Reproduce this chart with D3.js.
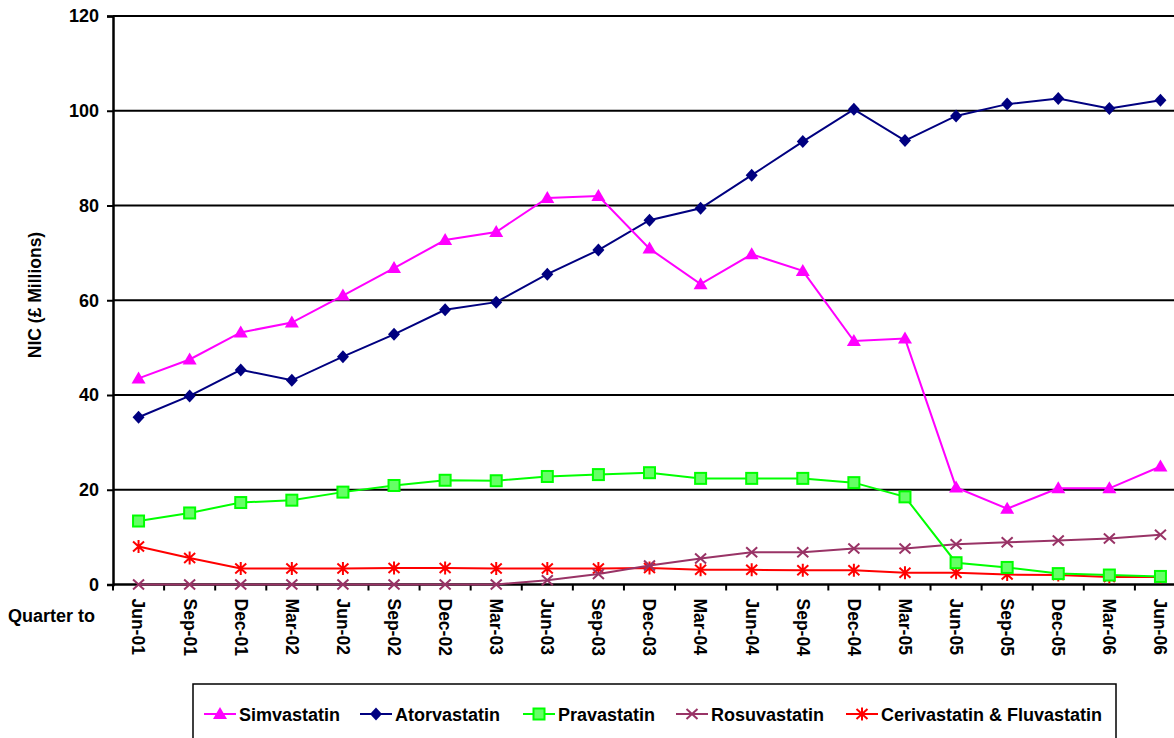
<!DOCTYPE html>
<html>
<head>
<meta charset="utf-8">
<script src="https://cdn.jsdelivr.net/npm/d3@7"></script>
<style>
  body { margin: 0; background: #fff; }
  svg { display: block; font-family: "Liberation Sans", Arial, sans-serif; font-weight: bold; }
</style>
</head>
<body>
<svg id="chart" width="1174" height="738"></svg>
<script>
// quarters
var quarters = ["Jun-01","Sep-01","Dec-01","Mar-02","Jun-02","Sep-02","Dec-02","Mar-03","Jun-03","Sep-03",
  "Dec-03","Mar-04","Jun-04","Sep-04","Dec-04","Mar-05","Jun-05","Sep-05","Dec-05","Mar-06","Jun-06"];

var simvastatin = [43.5,47.5,53.2,55.3,61.0,66.8,72.7,74.4,81.6,82.0,70.9,63.4,69.7,66.2,51.4,51.9,20.5,16.0,20.3,20.3,24.9];
var atorvastatin = [35.3,39.8,45.3,43.1,48.1,52.8,58.0,59.6,65.5,70.6,76.9,79.4,86.4,93.5,100.3,93.7,98.9,101.4,102.6,100.5,102.2];
var pravastatin = [13.4,15.1,17.3,17.8,19.5,20.9,22.0,21.9,22.8,23.2,23.6,22.4,22.4,22.4,21.5,18.5,4.6,3.6,2.3,2.0,1.7];
var rosuvastatin = [0,0,0,0,0,0,0,0,0.9,2.2,4.0,5.5,6.8,6.8,7.6,7.6,8.5,8.9,9.3,9.7,10.5];
var cerivFluv = [8.0,5.6,3.4,3.4,3.4,3.5,3.5,3.4,3.4,3.4,3.5,3.1,3.1,3.0,3.0,2.5,2.5,2.1,2.0,1.6,1.6];

var yTicks = [0,20,40,60,80,100,120];

var series = [
  {name: "Simvastatin", values: simvastatin, color: "#ff00ff", marker: "triangle"},
  {name: "Atorvastatin", values: atorvastatin, color: "#000080", marker: "diamond"},
  {name: "Pravastatin", values: pravastatin, color: "#00ff00", marker: "square"},
  {name: "Rosuvastatin", values: rosuvastatin, color: "#993366", marker: "cross"},
  {name: "Cerivastatin & Fluvastatin", values: cerivFluv, color: "#ff0000", marker: "star"}
];

var svg = d3.select("#chart");
// plot area runs past the right edge of the picture, as in the original
var plotLeft = 113, plotRight = 1186, plotTop = 16, plotBottom = 584.5;

var x = d3.scaleBand().domain(quarters).range([plotLeft, plotRight]);
var y = d3.scaleLinear().domain([0, 120]).range([plotBottom, plotTop]);

// gridlines
svg.append("g").selectAll("line.grid")
  .data(yTicks.filter(d => d > 0))
  .enter().append("line")
    .attr("class", "grid")
    .attr("x1", plotLeft).attr("x2", plotRight)
    .attr("y1", d => y(d)).attr("y2", d => y(d))
    .attr("stroke", "#000").attr("stroke-width", 2);

// y axis
var yAxis = svg.append("g").attr("transform", "translate(" + plotLeft + ",0)")
  .call(d3.axisLeft(y).tickValues(yTicks).tickSize(6).tickPadding(8));
yAxis.select(".domain").attr("stroke", "#000").attr("stroke-width", 2.5);
yAxis.selectAll(".tick line").attr("stroke", "#000").attr("stroke-width", 2);
yAxis.selectAll(".tick text")
  .attr("font-size", 18).attr("font-weight", "bold")
  .attr("font-family", "Liberation Sans, Arial").attr("fill", "#000");

// x axis line + ticks at band edges
svg.append("line")
  .attr("x1", plotLeft).attr("x2", plotRight).attr("y1", plotBottom).attr("y2", plotBottom)
  .attr("stroke", "#000").attr("stroke-width", 2.5);
svg.append("g").selectAll("line.xt")
  .data(quarters)
  .enter().append("line")
    .attr("x1", d => x(d)).attr("x2", d => x(d))
    .attr("y1", plotBottom).attr("y2", plotBottom + 6)
    .attr("stroke", "#000").attr("stroke-width", 2);

svg.append("g").selectAll("text.xl")
  .data(quarters)
  .enter().append("text")
    .attr("transform", d => "translate(" + (x(d) + x.bandwidth() / 2) + "," + (plotBottom + 14) + ") rotate(90)")
    .attr("dy", "0.35em")
    .attr("font-size", 17.5)
    .text(d => d);

svg.append("text")
  .attr("x", 8).attr("y", 622)
  .attr("font-size", 18)
  .text("Quarter to");

svg.append("text")
  .attr("transform", "translate(41,295) rotate(-90)")
  .attr("text-anchor", "middle")
  .attr("font-size", 17.5)
  .text("NIC (£ Millions)");

// markers
function drawMarker(g, type, color, cx, cy) {
  if (type == "triangle") {
    g.append("path").attr("d", "M" + cx + "," + (cy - 7) + "L" + (cx + 7) + "," + (cy + 5) + "L" + (cx - 7) + "," + (cy + 5) + "Z")
      .attr("fill", color);
  } else if (type == "diamond") {
    g.append("path").attr("d", "M" + cx + "," + (cy - 6.5) + "L" + (cx + 6) + "," + cy + "L" + cx + "," + (cy + 6.5) + "L" + (cx - 6) + "," + cy + "Z")
      .attr("fill", color);
  } else if (type == "square") {
    g.append("rect").attr("x", cx - 5.5).attr("y", cy - 5.5).attr("width", 11).attr("height", 11)
      .attr("fill", "#66ff66").attr("stroke", color).attr("stroke-width", 2);
  } else if (type == "cross") {
    g.append("path").attr("d", "M" + (cx - 5.5) + "," + (cy - 5) + "L" + (cx + 5.5) + "," + (cy + 5) + "M" + (cx + 5.5) + "," + (cy - 5) + "L" + (cx - 5.5) + "," + (cy + 5))
      .attr("stroke", color).attr("stroke-width", 2).attr("fill", "none");
  } else if (type == "star") {
    g.append("path").attr("d", "M" + (cx - 5.5) + "," + (cy - 5) + "L" + (cx + 5.5) + "," + (cy + 5) + "M" + (cx + 5.5) + "," + (cy - 5) + "L" + (cx - 5.5) + "," + (cy + 5) + "M" + cx + "," + (cy - 6.5) + "L" + cx + "," + (cy + 6.5))
      .attr("stroke", color).attr("stroke-width", 2).attr("fill", "none");
  }
}

var line = d3.line()
  .x((d, i) => x(quarters[i]) + x.bandwidth() / 2)
  .y(d => y(d));

// draw in reverse so Simvastatin sits on top
series.slice().reverse().forEach(function(s) {
  var g = svg.append("g").attr("class", "series");
  g.append("path").attr("d", line(s.values))
    .attr("fill", "none").attr("stroke", s.color).attr("stroke-width", 2);
  s.values.forEach(function(v, i) {
    drawMarker(g, s.marker, s.color, x(quarters[i]) + x.bandwidth() / 2, y(v));
  });
});

// legend
var legend = svg.append("g");
legend.append("rect")
  .attr("x", 193).attr("y", 684).attr("width", 923).attr("height", 70)
  .attr("fill", "#fff").attr("stroke", "#000").attr("stroke-width", 1.5);

var legendX = [204, 360, 523, 676, 846];
series.forEach(function(s, i) {
  var lx = legendX[i], ly = 714;
  legend.append("line").attr("x1", lx).attr("x2", lx + 32).attr("y1", ly).attr("y2", ly)
    .attr("stroke", s.color).attr("stroke-width", 2);
  drawMarker(legend, s.marker, s.color, lx + 16, ly);
  legend.append("text").attr("x", lx + 35).attr("y", ly + 6.5)
    .attr("font-size", 18).text(s.name);
});
</script>
</body>
</html>
